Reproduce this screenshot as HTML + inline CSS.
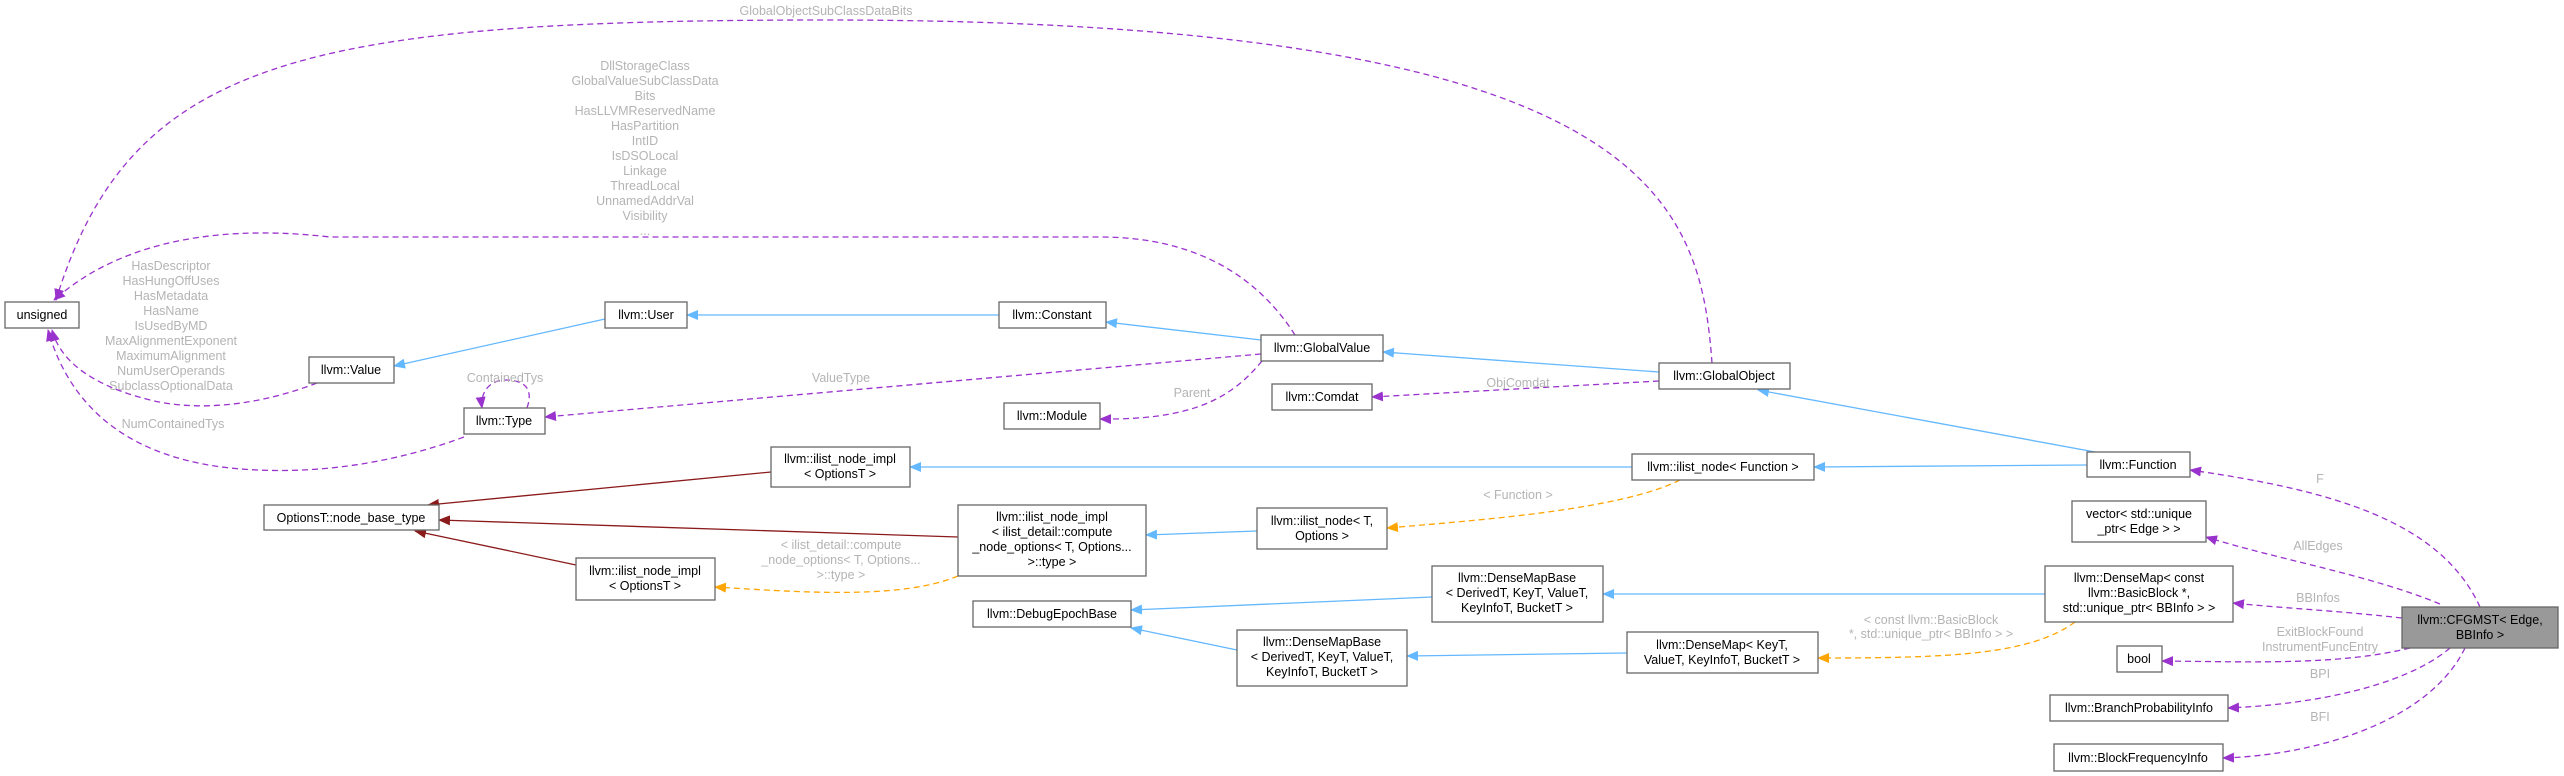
<!DOCTYPE html>
<html><head><meta charset="utf-8"><style>
html,body{margin:0;padding:0;background:#fff}
svg{display:block}
text{font-family:"Liberation Sans",Arial,sans-serif;font-size:12.5px}
.n{fill:#fff;stroke:#666;stroke-width:1.3}
.t{fill:#000;text-anchor:middle}
.l{fill:#b4b4b4;text-anchor:middle}
.b{stroke:#63b8ff;stroke-width:1.3;fill:none}
.r{stroke:#8b1a1a;stroke-width:1.3;fill:none}
.o{stroke:#ffa500;stroke-width:1.3;fill:none;stroke-dasharray:6,4}
.p{stroke:#9a32cd;stroke-width:1.3;fill:none;stroke-dasharray:6,4}
</style></head><body>
<svg width="2564" height="776" viewBox="0 0 2564 776" xmlns="http://www.w3.org/2000/svg">
<defs>
<marker id="ab" markerWidth="12" markerHeight="10" refX="11" refY="5" orient="auto" markerUnits="userSpaceOnUse"><path d="M0,0 L12,5 L0,10 z" fill="#63b8ff"/></marker>
<marker id="ar" markerWidth="12" markerHeight="10" refX="11" refY="5" orient="auto" markerUnits="userSpaceOnUse"><path d="M0,0 L12,5 L0,10 z" fill="#8b1a1a"/></marker>
<marker id="ao" markerWidth="12" markerHeight="10" refX="11" refY="5" orient="auto" markerUnits="userSpaceOnUse"><path d="M0,0 L12,5 L0,10 z" fill="#ffa500"/></marker>
<marker id="ap" markerWidth="12" markerHeight="10" refX="11" refY="5" orient="auto" markerUnits="userSpaceOnUse"><path d="M0,0 L12,5 L0,10 z" fill="#9a32cd"/></marker>
</defs>

<path class="b" d="M605,319 L394,366" marker-end="url(#ab)"/>
<path class="b" d="M999,315 L687,315" marker-end="url(#ab)"/>
<path class="b" d="M1261,340 L1106,322" marker-end="url(#ab)"/>
<path class="b" d="M1659,372 L1383,352" marker-end="url(#ab)"/>
<path class="b" d="M2095,452 L1758,390" marker-end="url(#ab)"/>
<path class="b" d="M2087,465 L1814,467" marker-end="url(#ab)"/>
<path class="b" d="M1632,467 L910,467" marker-end="url(#ab)"/>
<path class="b" d="M1257,531 L1146,535" marker-end="url(#ab)"/>
<path class="b" d="M1432,597 L1131,610" marker-end="url(#ab)"/>
<path class="b" d="M1237,650 L1131,628" marker-end="url(#ab)"/>
<path class="b" d="M2045,594 L1603,594" marker-end="url(#ab)"/>
<path class="b" d="M1627,653 L1407,656" marker-end="url(#ab)"/>

<path class="r" d="M771,472 L428,505" marker-end="url(#ar)"/>
<path class="r" d="M958,537 L439,520" marker-end="url(#ar)"/>
<path class="r" d="M576,565 L415,531" marker-end="url(#ar)"/>

<path class="o" d="M1680,480 C1620,510 1480,520 1387,528" marker-end="url(#ao)"/>
<path class="o" d="M958,576 C900,600 800,592 715,587" marker-end="url(#ao)"/>
<path class="o" d="M2075,622 C2030,655 1950,658 1818,658" marker-end="url(#ao)"/>

<path class="p" d="M1712,363 C1700,200 1650,20 826,20 C300,20 130,60 56,300" marker-end="url(#ap)"/>
<path class="p" d="M1295,335 C1260,280 1200,237 1100,237 L330,237 C200,222 110,250 54,300" marker-end="url(#ap)"/>
<path class="p" d="M317,383 C260,405 200,412 150,400 C90,385 60,360 52,330" marker-end="url(#ap)"/>
<path class="p" d="M464,437 C380,468 300,475 230,468 C110,455 65,390 48,330" marker-end="url(#ap)"/>
<path class="p" d="M527,408 C535,385 520,380 505,380 C490,380 480,392 482,408" marker-end="url(#ap)"/>
<path class="p" d="M1261,354 L545,417" marker-end="url(#ap)"/>
<path class="p" d="M1262,361 C1230,400 1190,420 1100,419" marker-end="url(#ap)"/>
<path class="p" d="M1659,381 L1372,397" marker-end="url(#ap)"/>
<path class="p" d="M2480,607 C2440,520 2330,490 2190,470" marker-end="url(#ap)"/>
<path class="p" d="M2440,604 C2370,575 2280,560 2206,537" marker-end="url(#ap)"/>
<path class="p" d="M2402,618 C2330,610 2280,608 2233,603" marker-end="url(#ap)"/>
<path class="p" d="M2410,648 C2340,665 2260,662 2162,661" marker-end="url(#ap)"/>
<path class="p" d="M2450,648 C2400,690 2300,705 2228,708" marker-end="url(#ap)"/>
<path class="p" d="M2465,648 C2430,720 2320,755 2223,758" marker-end="url(#ap)"/>

<text class="l" x="826" y="15">GlobalObjectSubClassDataBits</text>
<text class="l" x="645" y="70">DllStorageClass</text>
<text class="l" x="645" y="85">GlobalValueSubClassData</text>
<text class="l" x="645" y="100">Bits</text>
<text class="l" x="645" y="115">HasLLVMReservedName</text>
<text class="l" x="645" y="130">HasPartition</text>
<text class="l" x="645" y="145">IntID</text>
<text class="l" x="645" y="160">IsDSOLocal</text>
<text class="l" x="645" y="175">Linkage</text>
<text class="l" x="645" y="190">ThreadLocal</text>
<text class="l" x="645" y="205">UnnamedAddrVal</text>
<text class="l" x="645" y="220">Visibility</text>
<text class="l" x="645" y="235">...</text>
<text class="l" x="171" y="270">HasDescriptor</text>
<text class="l" x="171" y="285">HasHungOffUses</text>
<text class="l" x="171" y="300">HasMetadata</text>
<text class="l" x="171" y="315">HasName</text>
<text class="l" x="171" y="330">IsUsedByMD</text>
<text class="l" x="171" y="345">MaxAlignmentExponent</text>
<text class="l" x="171" y="360">MaximumAlignment</text>
<text class="l" x="171" y="375">NumUserOperands</text>
<text class="l" x="171" y="390">SubclassOptionalData</text>
<text class="l" x="173" y="428">NumContainedTys</text>
<text class="l" x="505" y="382">ContainedTys</text>
<text class="l" x="841" y="382">ValueType</text>
<text class="l" x="1192" y="397">Parent</text>
<text class="l" x="1518" y="387">ObjComdat</text>
<text class="l" x="1518" y="499">&lt; Function &gt;</text>
<text class="l" x="841" y="549">&lt; ilist_detail::compute</text>
<text class="l" x="841" y="564">_node_options&lt; T, Options...</text>
<text class="l" x="841" y="579">&gt;::type &gt;</text>
<text class="l" x="1931" y="624">&lt; const llvm::BasicBlock</text>
<text class="l" x="1931" y="638">*, std::unique_ptr&lt; BBInfo &gt; &gt;</text>
<text class="l" x="2320" y="483">F</text>
<text class="l" x="2318" y="550">AllEdges</text>
<text class="l" x="2318" y="602">BBInfos</text>
<text class="l" x="2320" y="636">ExitBlockFound</text>
<text class="l" x="2320" y="651">InstrumentFuncEntry</text>
<text class="l" x="2320" y="678">BPI</text>
<text class="l" x="2320" y="721">BFI</text>

<rect class="n" x="5" y="302" width="74" height="26"/><text class="t" x="42" y="319">unsigned</text>
<rect class="n" x="605" y="302" width="82" height="26"/><text class="t" x="646" y="319">llvm::User</text>
<rect class="n" x="309" y="357" width="85" height="26"/><text class="t" x="351" y="374">llvm::Value</text>
<rect class="n" x="464" y="408" width="81" height="26"/><text class="t" x="504" y="425">llvm::Type</text>
<rect class="n" x="264" y="505" width="175" height="25"/><text class="t" x="351" y="522">OptionsT::node_base_type</text>
<rect class="n" x="576" y="558" width="139" height="42"/><text class="t" x="645" y="575">llvm::ilist_node_impl</text><text class="t" x="645" y="590">&lt; OptionsT &gt;</text>
<rect class="n" x="999" y="302" width="107" height="26"/><text class="t" x="1052" y="319">llvm::Constant</text>
<rect class="n" x="1261" y="335" width="122" height="26"/><text class="t" x="1322" y="352">llvm::GlobalValue</text>
<rect class="n" x="1659" y="363" width="131" height="26"/><text class="t" x="1724" y="380">llvm::GlobalObject</text>
<rect class="n" x="1272" y="384" width="100" height="26"/><text class="t" x="1322" y="401">llvm::Comdat</text>
<rect class="n" x="1004" y="403" width="96" height="26"/><text class="t" x="1052" y="420">llvm::Module</text>
<rect class="n" x="771" y="447" width="139" height="40"/><text class="t" x="840" y="463">llvm::ilist_node_impl</text><text class="t" x="840" y="478">&lt; OptionsT &gt;</text>
<rect class="n" x="1632" y="454" width="182" height="26"/><text class="t" x="1723" y="471">llvm::ilist_node&lt; Function &gt;</text>
<rect class="n" x="958" y="505" width="188" height="71"/><text class="t" x="1052" y="521">llvm::ilist_node_impl</text><text class="t" x="1052" y="536">&lt; ilist_detail::compute</text><text class="t" x="1052" y="551">_node_options&lt; T, Options...</text><text class="t" x="1052" y="566">&gt;::type &gt;</text>
<rect class="n" x="1257" y="508" width="130" height="41"/><text class="t" x="1322" y="525">llvm::ilist_node&lt; T,</text><text class="t" x="1322" y="540">Options &gt;</text>
<rect class="n" x="1432" y="566" width="171" height="56"/><text class="t" x="1517" y="582">llvm::DenseMapBase</text><text class="t" x="1517" y="597">&lt; DerivedT, KeyT, ValueT,</text><text class="t" x="1517" y="612">KeyInfoT, BucketT &gt;</text>
<rect class="n" x="973" y="601" width="158" height="26"/><text class="t" x="1052" y="618">llvm::DebugEpochBase</text>
<rect class="n" x="1237" y="630" width="170" height="56"/><text class="t" x="1322" y="646">llvm::DenseMapBase</text><text class="t" x="1322" y="661">&lt; DerivedT, KeyT, ValueT,</text><text class="t" x="1322" y="676">KeyInfoT, BucketT &gt;</text>
<rect class="n" x="1627" y="632" width="191" height="41"/><text class="t" x="1722" y="649">llvm::DenseMap&lt; KeyT,</text><text class="t" x="1722" y="664">ValueT, KeyInfoT, BucketT &gt;</text>
<rect class="n" x="2087" y="452" width="103" height="25"/><text class="t" x="2138" y="469">llvm::Function</text>
<rect class="n" x="2072" y="501" width="134" height="41"/><text class="t" x="2139" y="518">vector&lt; std::unique</text><text class="t" x="2139" y="533">_ptr&lt; Edge &gt; &gt;</text>
<rect class="n" x="2045" y="566" width="188" height="56"/><text class="t" x="2139" y="582">llvm::DenseMap&lt; const</text><text class="t" x="2139" y="597">llvm::BasicBlock *,</text><text class="t" x="2139" y="612">std::unique_ptr&lt; BBInfo &gt; &gt;</text>
<rect x="2402" y="607" width="156" height="41" fill="#999" stroke="#666" stroke-width="1.3"/><text class="t" x="2480" y="624">llvm::CFGMST&lt; Edge,</text><text class="t" x="2480" y="639">BBInfo &gt;</text>
<rect class="n" x="2117" y="646" width="45" height="26"/><text class="t" x="2139" y="663">bool</text>
<rect class="n" x="2050" y="695" width="178" height="26"/><text class="t" x="2139" y="712">llvm::BranchProbabilityInfo</text>
<rect class="n" x="2054" y="744" width="169" height="27"/><text class="t" x="2138" y="762">llvm::BlockFrequencyInfo</text>
</svg>
</body></html>
